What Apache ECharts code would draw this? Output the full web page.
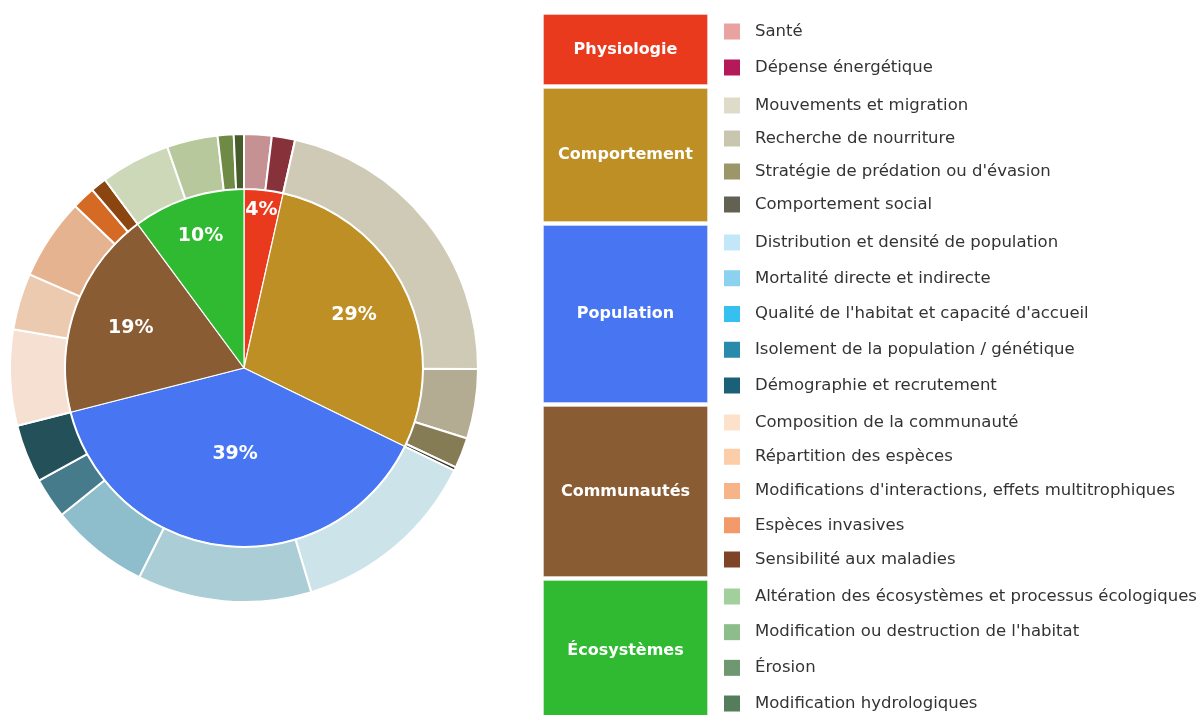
<!DOCTYPE html>
<html>
<head>
<meta charset="utf-8">
<script src="https://cdn.jsdelivr.net/npm/echarts@6/dist/echarts.min.js"></script>
<style>
  html, body { margin: 0; padding: 0; background: #fff; }
  #chart { width: 1199px; height: 715px; }
</style>
</head>
<body>
<div id="chart"></div>
<script>
const categories = ["Physiologie", "Comportement", "Population", "Communautés", "Écosystèmes"];
const categoryValues = [3.5, 28.65, 38.7, 18.8, 10.1];
const categoryColors = ["#ea3a1e", "#bd8f24", "#4876f3", "#8a5c33", "#2fba31"];

const subNames = [
  ["Santé", "Dépense énergétique"],
  ["Mouvements et migration", "Recherche de nourriture", "Stratégie de prédation ou d'évasion", "Comportement social"],
  ["Distribution et densité de population", "Mortalité directe et indirecte", "Qualité de l'habitat et capacité d'accueil", "Isolement de la population / génétique", "Démographie et recrutement"],
  ["Composition de la communauté", "Répartition des espèces", "Modifications d'interactions, effets multitrophiques", "Espèces invasives", "Sensibilité aux maladies"],
  ["Altération des écosystèmes et processus écologiques", "Modification ou destruction de l'habitat", "Érosion", "Modification hydrologiques"]
];
const subValues = [
  [1.9, 1.6],
  [21.5, 4.8, 2.1, 0.25],
  [13.1, 12.0, 6.8, 2.8, 4.0],
  [6.6, 3.9, 5.6, 1.6, 1.1],
  [4.8, 3.5, 1.1, 0.7]
];
// colours of the outer ring
const ringColors = [
  ["#c59192", "#87313a"],
  ["#cfcab6", "#b3ac92", "#857c55", "#3d3a2a"],
  ["#cce3ea", "#aacdd6", "#8ebdcb", "#457b8a", "#235059"],
  ["#f5e0d2", "#eccab0", "#e6b390", "#d46a24", "#8b4510"],
  ["#ccd8b8", "#b7c89c", "#6f8a45", "#465c2b"]
];
// colours of the legend squares
const legendColors = [
  ["#e8a3a0", "#b5195a"],
  ["#dedcc8", "#c9c6b0", "#9c9669", "#626152"],
  ["#c3e6f8", "#8cd2f0", "#35c0f0", "#2a8aac", "#1a6077"],
  ["#fde2cb", "#fbcda8", "#f7b488", "#f39a6a", "#7e4427"],
  ["#a1d09c", "#8dbd8a", "#6f9770", "#557d5c"]
];

// layout of the right hand key
const boxTops = [14, 88, 225, 406, 580];
const boxHeights = [70, 133, 177, 170, 140];
const legendTops = [23, 97, 234, 414, 588];
const legendGaps = [19, 16, 18.75, 17.25, 18.67];
const labelRadius = [0.86, 0.66, 0.47, 0.65, 0.75];

const CENTER = [244, 368];
const R_IN = 179;
const R_OUT = 234;

const chart = echarts.init(document.getElementById("chart"));

const innerData = categories.map((name, i) => ({
  name,
  value: categoryValues[i],
  itemStyle: { color: categoryColors[i] }
}));

const outerData = [];
subNames.forEach((group, i) => {
  group.forEach((name, j) => {
    outerData.push({ name, value: subValues[i][j], itemStyle: { color: ringColors[i][j] } });
  });
});

const legends = subNames.map((group, i) => ({
  orient: "vertical",
  left: 724,
  top: legendTops[i],
  height: 240,
  itemGap: legendGaps[i],
  itemWidth: 16,
  itemHeight: 16,
  padding: 0,
  icon: "rect",
  selectedMode: false,
  textStyle: {
    fontFamily: "DejaVu Sans",
    fontSize: 16.5,
    color: "#333",
    lineHeight: 16,
    padding: [0, 0, 0, 10]
  },
  data: group.map((name, j) => ({
    name,
    itemStyle: { color: legendColors[i][j], borderWidth: 0 }
  }))
}));

const boxes = categories.map((name, i) => ({
  type: "rect",
  left: 543,
  top: boxTops[i],
  shape: { width: 164, height: boxHeights[i] },
  style: { fill: categoryColors[i], stroke: "rgba(255,255,255,0.35)", lineWidth: 1 },
  textContent: {
    style: {
      text: name,
      fill: "#fff",
      font: "bold 16px 'DejaVu Sans'"
    }
  },
  textConfig: { position: "inside" }
}));

chart.setOption({
  backgroundColor: "#fff",
  animation: false,
  legend: legends,
  graphic: boxes,
  series: [
    {
      name: "Catégories",
      type: "pie",
      center: CENTER,
      radius: [0, R_IN],
      startAngle: 90,
      silent: true,
      itemStyle: { borderColor: "#fff", borderWidth: 1.2 },
      label: {
        show: true,
        position: "inside",
        formatter: (p) => Math.round(p.value) + "%",
        color: "#fff",
        fontFamily: "DejaVu Sans",
        fontWeight: "bold",
        fontSize: 19
      },
      labelLayout: (params) => {
        const r = params.labelRect;
        const lx = r.x + r.width / 2 - CENTER[0];
        const ly = r.y + r.height / 2 - CENTER[1];
        const k = labelRadius[params.dataIndex] / 0.5 - 1;
        return { dx: lx * k, dy: ly * k };
      },
      data: innerData
    },
    {
      name: "Sous-catégories",
      type: "pie",
      center: CENTER,
      radius: [R_IN, R_OUT],
      startAngle: 90,
      silent: true,
      itemStyle: { borderColor: "#fff", borderWidth: 2 },
      label: { show: false },
      labelLine: { show: false },
      data: outerData
    }
  ]
});
</script>
</body>
</html>
